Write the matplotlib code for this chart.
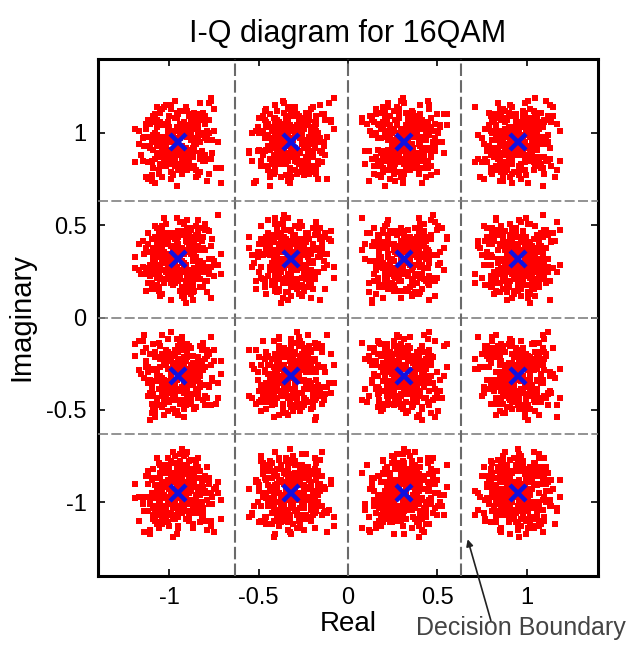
import numpy as np
import matplotlib
matplotlib.use("Agg")
import matplotlib.pyplot as plt

plt.rcParams["font.family"] = ["Liberation Sans", "DejaVu Sans"]

# 16QAM constellation levels (normalised)
levels = [-0.949, -0.316, 0.316, 0.949]
boundaries = [-0.632, 0.0, 0.632]
tick_vals = [-1, -0.5, 0, 0.5, 1]
tick_labels = ["-1", "-0.5", "0", "0.5", "1"]

# received-sample offsets around each symbol
noise_dx = [
    0.02, -0.05, 0.11, -0.13, 0.04, 0.00, -0.08, 0.15, -0.02, 0.07, -0.17, 0.09, -0.04, 0.12, -0.10,
    0.06, -0.01, 0.19, -0.07, 0.03, -0.12, 0.08, -0.15, 0.01, 0.10, -0.06, 0.14, -0.03, 0.05, -0.20,
    0.13, -0.09, 0.00, 0.17, -0.11, 0.04, -0.05, 0.08, -0.14, 0.02, 0.22, -0.02, 0.06, -0.08, 0.11,
    -0.16, 0.03, -0.04, 0.09, -0.01, 0.12, -0.13, 0.07, -0.06, 0.16, -0.10, 0.01, 0.05, -0.18, 0.10,
    -0.03, 0.14, -0.07, 0.02, -0.12, 0.08, 0.00, -0.09, 0.18, -0.05, 0.04, -0.15, 0.11, -0.02, 0.06,
    0.24, -0.08, 0.03, -0.11, 0.13, -0.04, 0.09, -0.01, 0.15, -0.14, 0.07, -0.06, 0.01, -0.19, 0.10,
    -0.02, 0.05, -0.10, 0.12, -0.07, 0.20, -0.03, 0.08, -0.13, 0.04, -0.22, 0.02, 0.11, -0.05, 0.16,
    -0.09, 0.06, -0.16, 0.00, 0.14, -0.01, 0.09, -0.12, 0.03, -0.06, 0.17, -0.08, 0.07, -0.04, 0.12,
    0.01, -0.14, 0.10, -0.02, 0.05, -0.11, 0.21, -0.07, 0.03, -0.17, 0.08, -0.03, 0.13, -0.09, 0.02,
    -0.05, 0.15, -0.12, 0.06, -0.24, 0.04, -0.01, 0.11, -0.08, 0.18, -0.06, 0.09, -0.15, 0.00, 0.07,
]
noise_dy = [
    -0.07, 0.03, 0.12, -0.01, -0.15, 0.09, 0.05, -0.10, 0.18, -0.04, 0.02, 0.11, -0.13, 0.06, -0.02,
    0.14, -0.08, 0.01, -0.19, 0.07, 0.10, -0.05, 0.04, -0.12, 0.16, 0.00, -0.06, 0.08, -0.17, 0.03,
    0.05, -0.11, 0.21, 0.02, -0.04, 0.13, -0.09, 0.06, 0.11, -0.14, -0.03, 0.08, -0.20, 0.15, 0.01,
    -0.06, 0.10, -0.16, 0.04, 0.12, -0.02, 0.07, -0.11, 0.17, -0.05, 0.09, -0.08, 0.22, 0.03, -0.13,
    0.11, 0.00, 0.06, -0.10, 0.14, -0.18, 0.05, -0.03, 0.08, 0.19, -0.07, 0.02, -0.14, 0.12, -0.01,
    0.04, -0.09, 0.16, -0.05, 0.07, 0.01, -0.12, 0.10, -0.06, 0.13, -0.21, 0.03, 0.09, -0.04, 0.15,
    -0.11, 0.06, 0.02, -0.08, 0.18, -0.15, 0.12, -0.02, 0.05, -0.10, 0.07, 0.14, -0.17, 0.00, -0.06,
    0.09, -0.13, 0.04, 0.11, -0.07, 0.20, -0.03, 0.08, -0.16, 0.13, 0.01, -0.09, 0.06, -0.12, 0.17,
    -0.04, 0.10, -0.19, 0.03, 0.15, -0.08, 0.05, 0.12, -0.14, 0.02, -0.01, 0.24, -0.06, 0.09, -0.11,
    0.07, -0.03, 0.14, -0.22, 0.00, 0.11, -0.15, 0.04, -0.07, 0.08, 0.16, -0.10, 0.02, 0.13, -0.05,
]


def main():
    fig = plt.figure(figsize=(6.39, 6.46), dpi=100)
    ax = fig.add_axes([0.153, 0.108, 0.783, 0.801])

    dx = np.array(noise_dx)
    dy = np.array(noise_dy)
    k = 0
    for yi in levels:
        for xi in levels:
            # shuffle pairing per cluster so clouds don't look identical
            ddy = np.roll(dy, 7 * k + 3)
            ax.scatter(xi + dx, yi + ddy, s=13, marker="s", c="#ff0000",
                       linewidths=0, zorder=2)
            ax.scatter(xi - np.roll(dx, 11 * k + 5), yi - np.roll(dy, 5 * k + 2), s=13,
                       marker="s", c="#ff0000", linewidths=0, zorder=2)
            k += 1

    sx, sy = np.meshgrid(levels, levels)
    ax.plot(sx.ravel(), sy.ravel(), "x", color="#1010e0", ms=11, mew=3.2, zorder=4)

    # decision boundaries
    for b in boundaries:
        ax.axvline(b, color="#6a6a6a", lw=1.5, ls=(0, (6, 2)), zorder=3)
        ax.axhline(b, color="#808080", lw=1.2, ls=(0, (6, 2)), zorder=3)

    ax.set_xlim(-1.4, 1.4)
    ax.set_ylim(-1.4, 1.4)
    ax.set_xticks(tick_vals)
    ax.set_xticklabels(tick_labels)
    ax.set_yticks(tick_vals)
    ax.set_yticklabels(tick_labels)
    ax.tick_params(direction="in", length=5, width=1.2, labelsize=17,
                   top=True, right=True, pad=8)
    for sp in ax.spines.values():
        sp.set_linewidth(2.2)

    ax.set_title("I-Q diagram for 16QAM", fontsize=22, pad=12)
    ax.set_xlabel("Real", fontsize=20, labelpad=1)
    ax.set_ylabel("Imaginary", fontsize=21, labelpad=8)

    ax.annotate("", xy=(0.67, -1.2), xytext=(0.80, -1.64),
                arrowprops=dict(arrowstyle="-|>", color="#222222", lw=1.2,
                                mutation_scale=10, shrinkA=0, shrinkB=0),
                annotation_clip=False, zorder=5)
    ax.text(0.97, -1.68, "Decision Boundary", fontsize=18, color="#444444",
            ha="center", va="center", clip_on=False)

    fig.savefig("out.png", dpi=100)
    plt.close(fig)


if __name__ == "__main__":
    main()
